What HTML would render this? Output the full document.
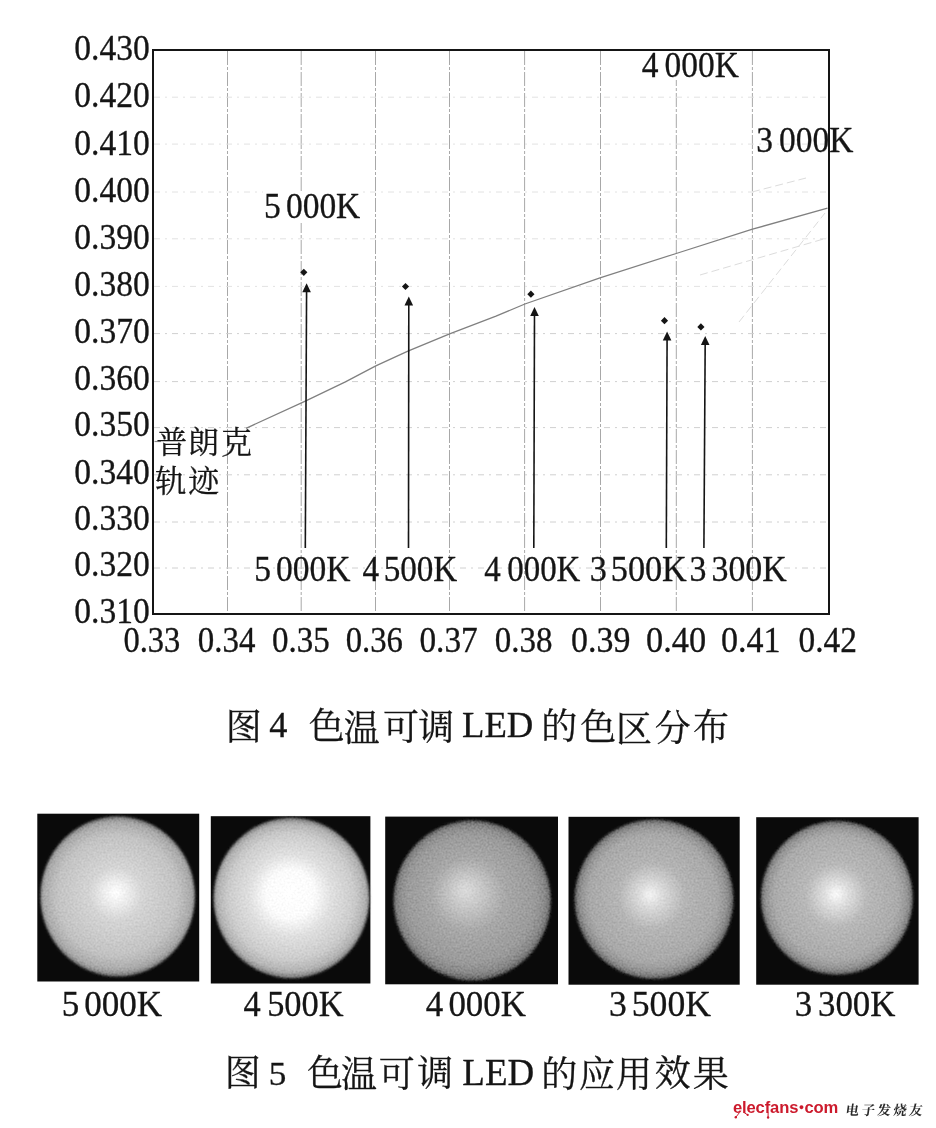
<!DOCTYPE html><html><head><meta charset="utf-8"><style>html,body{margin:0;padding:0;background:#fff;width:936px;height:1128px;overflow:hidden}svg{display:block}text{font-family:"Liberation Serif","Noto Serif CJK SC",serif;fill:#151515;stroke:#151515;stroke-width:0.3px}</style></head><body>
<svg width="936" height="1128" viewBox="0 0 936 1128">
<defs><filter id="bl" x="-10%" y="-10%" width="120%" height="120%"><feGaussianBlur stdDeviation="1.6"/></filter></defs>
<rect width="936" height="1128" fill="#fff"/>
<line x1="227.5" y1="51" x2="227.5" y2="613" stroke="#a8a8a8" stroke-width="1" stroke-dasharray="14 2 3 2"/>
<line x1="301.2" y1="51" x2="301.2" y2="613" stroke="#a8a8a8" stroke-width="1" stroke-dasharray="14 2 3 2"/>
<line x1="375.5" y1="51" x2="375.5" y2="613" stroke="#a8a8a8" stroke-width="1" stroke-dasharray="14 2 3 2"/>
<line x1="449.5" y1="51" x2="449.5" y2="613" stroke="#a8a8a8" stroke-width="1" stroke-dasharray="14 2 3 2"/>
<line x1="524.6" y1="51" x2="524.6" y2="613" stroke="#a8a8a8" stroke-width="1" stroke-dasharray="14 2 3 2"/>
<line x1="600.5" y1="51" x2="600.5" y2="613" stroke="#a8a8a8" stroke-width="1" stroke-dasharray="14 2 3 2"/>
<line x1="676.3" y1="51" x2="676.3" y2="613" stroke="#a8a8a8" stroke-width="1" stroke-dasharray="14 2 3 2"/>
<line x1="752.4" y1="51" x2="752.4" y2="613" stroke="#a8a8a8" stroke-width="1" stroke-dasharray="14 2 3 2"/>
<line x1="154" y1="97.2" x2="828" y2="97.2" stroke="#e2e2e2" stroke-width="1" stroke-dasharray="6 5 2 5"/>
<line x1="154" y1="144.1" x2="828" y2="144.1" stroke="#e2e2e2" stroke-width="1" stroke-dasharray="6 5 2 5"/>
<line x1="154" y1="192" x2="828" y2="192" stroke="#e2e2e2" stroke-width="1" stroke-dasharray="6 5 2 5"/>
<line x1="154" y1="238.8" x2="828" y2="238.8" stroke="#e2e2e2" stroke-width="1" stroke-dasharray="6 5 2 5"/>
<line x1="154" y1="286.4" x2="828" y2="286.4" stroke="#e2e2e2" stroke-width="1" stroke-dasharray="6 5 2 5"/>
<line x1="154" y1="333.6" x2="828" y2="333.6" stroke="#d0d0d0" stroke-width="1" stroke-dasharray="6 5 2 5"/>
<line x1="154" y1="381.6" x2="828" y2="381.6" stroke="#d0d0d0" stroke-width="1" stroke-dasharray="6 5 2 5"/>
<line x1="154" y1="427.6" x2="828" y2="427.6" stroke="#d0d0d0" stroke-width="1" stroke-dasharray="6 5 2 5"/>
<line x1="154" y1="474.8" x2="828" y2="474.8" stroke="#d0d0d0" stroke-width="1" stroke-dasharray="6 5 2 5"/>
<line x1="154" y1="522" x2="828" y2="522" stroke="#d0d0d0" stroke-width="1" stroke-dasharray="6 5 2 5"/>
<line x1="154" y1="568" x2="828" y2="568" stroke="#d0d0d0" stroke-width="1" stroke-dasharray="6 5 2 5"/>
<polyline points="246,428.3 305.3,401.2 345.4,381.9 375.8,365.9 407.9,351.2 449.6,333.8 496,316.2 524.9,304 600,277.9 676.2,253.5 752.5,229.2 827.5,208.1" fill="none" stroke="#808080" stroke-width="1.3"/>
<g stroke="#dcdcdc" stroke-width="1" fill="none" stroke-dasharray="8 4"><line x1="752" y1="192" x2="806" y2="178"/><line x1="700" y1="275" x2="827" y2="238"/><line x1="739" y1="322" x2="825" y2="213"/></g>
<line x1="154.5" y1="441.5" x2="161" y2="441.5" stroke="#8a8a8a" stroke-width="1.2"/>
<rect x="263" y="191" width="99" height="32" fill="#fff"/>
<rect x="640" y="51" width="101" height="29" fill="#fff"/>
<rect x="153" y="50" width="676" height="564" fill="none" stroke="#151515" stroke-width="2"/>
<line x1="305.3" y1="548" x2="306.6" y2="287.2" stroke="#151515" stroke-width="1.6"/>
<path d="M306.6,283.2 L310.90000000000003,292.2 L302.3,292.2 Z" fill="#151515"/>
<path d="M303.8,268.7 L307.40000000000003,272.3 L303.8,275.90000000000003 L300.2,272.3 Z" fill="#151515"/>
<line x1="408.5" y1="548" x2="408.8" y2="300.5" stroke="#151515" stroke-width="1.6"/>
<path d="M408.8,296.5 L413.1,305.5 L404.5,305.5 Z" fill="#151515"/>
<path d="M405.5,282.9 L409.1,286.5 L405.5,290.1 L401.9,286.5 Z" fill="#151515"/>
<line x1="533.8" y1="548" x2="534.5" y2="311" stroke="#151515" stroke-width="1.6"/>
<path d="M534.5,307 L538.8,316 L530.2,316 Z" fill="#151515"/>
<path d="M530.9,290.59999999999997 L534.5,294.2 L530.9,297.8 L527.3,294.2 Z" fill="#151515"/>
<line x1="666.3" y1="548" x2="667.1" y2="335.6" stroke="#151515" stroke-width="1.6"/>
<path d="M667.1,331.6 L671.4,340.6 L662.8000000000001,340.6 Z" fill="#151515"/>
<path d="M664.5,317.09999999999997 L668.1,320.7 L664.5,324.3 L660.9,320.7 Z" fill="#151515"/>
<line x1="703.9" y1="548" x2="705.2" y2="340" stroke="#151515" stroke-width="1.6"/>
<path d="M705.2,336 L709.5,345 L700.9000000000001,345 Z" fill="#151515"/>
<path d="M700.9,323.29999999999995 L704.5,326.9 L700.9,330.5 L697.3,326.9 Z" fill="#151515"/>
<filter id="nz" x="-5%" y="-5%" width="110%" height="110%"><feGaussianBlur in="SourceGraphic" stdDeviation="1.6" result="b"/><feTurbulence type="fractalNoise" baseFrequency="0.5" numOctaves="2" seed="7" result="t"/><feColorMatrix in="t" type="matrix" values="1 0 0 0 0  1 0 0 0 0  1 0 0 0 0  0 0 0 0 1" result="n"/><feComposite in="b" in2="n" operator="arithmetic" k1="0" k2="1" k3="0.22" k4="-0.11" result="c"/><feComposite in="c" in2="b" operator="in"/></filter>
<radialGradient id="g0" cx="117.7" cy="896.4" fx="115.5" fy="892.5" r="80.8" gradientUnits="userSpaceOnUse"><stop offset="0" stop-color="#ffffff"/><stop offset="0.12" stop-color="#f0f0f0"/><stop offset="0.33" stop-color="#d4d4d4"/><stop offset="0.75" stop-color="#c2c2c2"/><stop offset="0.92" stop-color="#a8a8a8"/><stop offset="1" stop-color="#6a6a6a"/></radialGradient>
<rect x="37.3" y="813.7" width="161.89999999999998" height="167.79999999999995" fill="#0a0a0a"/>
<ellipse cx="117.7" cy="896.4" rx="78" ry="80.8" fill="url(#g0)" filter="url(#nz)"/>
<radialGradient id="g1" cx="291.5" cy="898" fx="289.5" fy="892.5" r="81" gradientUnits="userSpaceOnUse"><stop offset="0" stop-color="#ffffff"/><stop offset="0.3" stop-color="#fbfbfb"/><stop offset="0.5" stop-color="#e0e0e0"/><stop offset="0.78" stop-color="#cbcbcb"/><stop offset="0.92" stop-color="#b0b0b0"/><stop offset="1" stop-color="#6a6a6a"/></radialGradient>
<rect x="210.8" y="816.2" width="159.59999999999997" height="167.29999999999995" fill="#0a0a0a"/>
<ellipse cx="291.5" cy="898" rx="78.6" ry="81" fill="url(#g1)" filter="url(#nz)"/>
<radialGradient id="g2" cx="472.2" cy="900.4" fx="465" fy="890" r="80.8" gradientUnits="userSpaceOnUse"><stop offset="0" stop-color="#dcdcdc"/><stop offset="0.2" stop-color="#c6c6c6"/><stop offset="0.45" stop-color="#a8a8a8"/><stop offset="0.8" stop-color="#9a9a9a"/><stop offset="0.92" stop-color="#878787"/><stop offset="1" stop-color="#565656"/></radialGradient>
<rect x="385.2" y="816.6" width="172.8" height="167.69999999999993" fill="#0a0a0a"/>
<ellipse cx="472.2" cy="900.4" rx="79.4" ry="80.8" fill="url(#g2)" filter="url(#nz)"/>
<radialGradient id="g3" cx="654" cy="899.2" fx="650" fy="894.5" r="80.4" gradientUnits="userSpaceOnUse"><stop offset="0" stop-color="#f4f4f4"/><stop offset="0.15" stop-color="#dadada"/><stop offset="0.42" stop-color="#b4b4b4"/><stop offset="0.8" stop-color="#a8a8a8"/><stop offset="0.92" stop-color="#909090"/><stop offset="1" stop-color="#5a5a5a"/></radialGradient>
<rect x="568.5" y="816.8" width="171.20000000000005" height="167.9000000000001" fill="#0a0a0a"/>
<ellipse cx="654" cy="899.2" rx="80.2" ry="80.4" fill="url(#g3)" filter="url(#nz)"/>
<radialGradient id="g4" cx="836.9" cy="897.9" fx="836" fy="894" r="77.7" gradientUnits="userSpaceOnUse"><stop offset="0" stop-color="#fcfcfc"/><stop offset="0.13" stop-color="#e2e2e2"/><stop offset="0.4" stop-color="#b8b8b8"/><stop offset="0.8" stop-color="#aaaaaa"/><stop offset="0.92" stop-color="#929292"/><stop offset="1" stop-color="#5a5a5a"/></radialGradient>
<rect x="756.2" y="817.2" width="162.39999999999998" height="167.5" fill="#0a0a0a"/>
<ellipse cx="836.9" cy="897.9" rx="76.7" ry="77.7" fill="url(#g4)" filter="url(#nz)"/>
<text transform="matrix(1.0167 0 0 1.0773 74.28 60.00)" font-size="33">0.430</text>
<text transform="matrix(1.0167 0 0 1.0773 74.28 107.30)" font-size="33">0.420</text>
<text transform="matrix(1.0167 0 0 1.0773 74.28 154.55)" font-size="33">0.410</text>
<text transform="matrix(1.0167 0 0 1.0773 74.28 201.70)" font-size="33">0.400</text>
<text transform="matrix(1.0167 0 0 1.0773 74.28 248.80)" font-size="33">0.390</text>
<text transform="matrix(1.0167 0 0 1.0773 74.28 296.20)" font-size="33">0.380</text>
<text transform="matrix(1.0167 0 0 1.0773 74.28 343.35)" font-size="33">0.370</text>
<text transform="matrix(1.0167 0 0 1.0773 74.28 390.45)" font-size="33">0.360</text>
<text transform="matrix(1.0167 0 0 1.0773 74.28 436.30)" font-size="33">0.350</text>
<text transform="matrix(1.0167 0 0 1.0773 74.28 483.50)" font-size="33">0.340</text>
<text transform="matrix(1.0167 0 0 1.0773 74.28 529.80)" font-size="33">0.330</text>
<text transform="matrix(1.0167 0 0 1.0773 74.28 576.00)" font-size="33">0.320</text>
<text transform="matrix(1.0167 0 0 1.0773 74.28 622.50)" font-size="33">0.310</text>
<text transform="matrix(0.9855 0 0 1.1091 123.41 652.20)" font-size="33">0.33</text>
<text transform="matrix(0.9982 0 0 1.1091 197.80 652.20)" font-size="33">0.34</text>
<text transform="matrix(1.0000 0 0 1.1091 272.00 652.20)" font-size="33">0.35</text>
<text transform="matrix(0.9911 0 0 1.1091 345.71 652.20)" font-size="33">0.36</text>
<text transform="matrix(1.0107 0 0 1.1091 419.39 652.20)" font-size="33">0.37</text>
<text transform="matrix(1.0000 0 0 1.1091 494.80 652.20)" font-size="33">0.38</text>
<text transform="matrix(1.0273 0 0 1.1091 571.07 652.20)" font-size="33">0.39</text>
<text transform="matrix(1.0400 0 0 1.1091 646.06 652.20)" font-size="33">0.40</text>
<text transform="matrix(1.0309 0 0 1.1091 721.07 652.20)" font-size="33">0.41</text>
<text transform="matrix(1.0127 0 0 1.1091 798.49 652.20)" font-size="33">0.42</text>
<text transform="matrix(0.9851 0 0 1.0455 263.88 217.50)" font-size="34">5</text>
<text transform="matrix(0.9851 0 0 1.0455 285.91 217.50)" font-size="34">000K</text>
<text transform="matrix(0.9838 0 0 1.0682 641.70 76.70)" font-size="34">4</text>
<text transform="matrix(0.9838 0 0 1.0682 664.62 76.70)" font-size="34">000K</text>
<text transform="matrix(0.9838 0 0 1.0409 756.25 152.30)" font-size="34">3</text>
<text transform="matrix(0.9838 0 0 1.0409 779.02 152.30)" font-size="34">000K</text>
<text transform="matrix(0.9851 0 0 1.0500 254.28 580.70)" font-size="34">5</text>
<text transform="matrix(0.9851 0 0 1.0500 276.01 580.70)" font-size="34">000K</text>
<text transform="matrix(0.9753 0 0 1.0500 362.52 580.70)" font-size="34">4</text>
<text transform="matrix(0.9753 0 0 1.0500 383.65 580.70)" font-size="34">500K</text>
<text transform="matrix(0.9689 0 0 1.0500 484.23 580.70)" font-size="34">4</text>
<text transform="matrix(0.9689 0 0 1.0500 507.23 580.70)" font-size="34">000K</text>
<text transform="matrix(1.0055 0 0 1.0500 589.65 580.70)" font-size="34">3</text>
<text transform="matrix(1.0055 0 0 1.0500 610.79 580.70)" font-size="34">500K</text>
<text transform="matrix(0.9959 0 0 1.0500 689.59 580.70)" font-size="34">3</text>
<text transform="matrix(0.9959 0 0 1.0500 711.51 580.70)" font-size="34">300K</text>
<text transform="matrix(1.0013 0 0 1.0167 61.64 1015.60)" font-size="35">5</text>
<text transform="matrix(1.0013 0 0 1.0167 84.30 1015.60)" font-size="35">000K</text>
<text transform="matrix(0.9827 0 0 1.0167 243.56 1015.60)" font-size="35">4</text>
<text transform="matrix(0.9827 0 0 1.0167 267.13 1015.60)" font-size="35">500K</text>
<text transform="matrix(0.9974 0 0 1.0167 425.72 1015.60)" font-size="35">4</text>
<text transform="matrix(0.9974 0 0 1.0167 448.40 1015.60)" font-size="35">000K</text>
<text transform="matrix(1.0187 0 0 1.0167 609.03 1015.60)" font-size="35">3</text>
<text transform="matrix(1.0187 0 0 1.0167 631.76 1015.60)" font-size="35">500K</text>
<text transform="matrix(0.9947 0 0 1.0167 794.85 1015.60)" font-size="35">3</text>
<text transform="matrix(0.9947 0 0 1.0167 818.01 1015.60)" font-size="35">300K</text>
<text transform="matrix(1.0000 0 0 1.0000 156.20 453.40)" font-size="31">普</text>
<text transform="matrix(1.0000 0 0 1.0000 188.10 453.40)" font-size="31">朗</text>
<text transform="matrix(1.0000 0 0 1.0000 221.00 453.40)" font-size="31">克</text>
<text transform="matrix(1.0000 0 0 1.0000 155.25 491.85)" font-size="31">轨</text>
<text transform="matrix(1.0000 0 0 1.0000 188.15 492.35)" font-size="31">迹</text>
<text transform="matrix(1.0000 0 0 1.0000 225.70 739.75)" font-size="36">图</text>
<text transform="matrix(1.0000 0 0 1.0000 308.75 739.25)" font-size="36">色</text>
<text transform="matrix(1.0000 0 0 1.0000 343.65 740.50)" font-size="36">温</text>
<text transform="matrix(1.0000 0 0 1.0000 383.10 740.00)" font-size="36">可</text>
<text transform="matrix(1.0000 0 0 1.0000 418.20 739.55)" font-size="36">调</text>
<text transform="matrix(1.0000 0 0 1.0000 541.30 739.35)" font-size="36">的</text>
<text transform="matrix(1.0000 0 0 1.0000 580.15 740.15)" font-size="36">色</text>
<text transform="matrix(1.0000 0 0 1.0000 616.00 741.60)" font-size="36">区</text>
<text transform="matrix(1.0000 0 0 1.0000 654.70 740.65)" font-size="36">分</text>
<text transform="matrix(1.0000 0 0 1.0000 693.00 740.30)" font-size="36">布</text>
<text transform="matrix(1.0687 0 0 1.0500 269.23 736.80)" font-size="34">4</text>
<text transform="matrix(1.0191 0 0 1.0000 461.98 737.30)" font-size="36">LED</text>
<text transform="matrix(1.0000 0 0 1.0000 224.70 1086.25)" font-size="36">图</text>
<text transform="matrix(1.0000 0 0 1.0000 307.10 1086.00)" font-size="36">色</text>
<text transform="matrix(1.0000 0 0 1.0000 341.10 1087.20)" font-size="36">温</text>
<text transform="matrix(1.0000 0 0 1.0000 378.75 1086.70)" font-size="36">可</text>
<text transform="matrix(1.0000 0 0 1.0000 417.30 1086.30)" font-size="36">调</text>
<text transform="matrix(1.0000 0 0 1.0000 541.35 1086.70)" font-size="36">的</text>
<text transform="matrix(1.0000 0 0 1.0000 579.00 1087.30)" font-size="36">应</text>
<text transform="matrix(1.0000 0 0 1.0000 616.10 1086.80)" font-size="36">用</text>
<text transform="matrix(1.0000 0 0 1.0000 654.80 1086.35)" font-size="36">效</text>
<text transform="matrix(1.0000 0 0 1.0000 692.65 1086.80)" font-size="36">果</text>
<text transform="matrix(1.0357 0 0 1.0136 268.63 1084.80)" font-size="34">5</text>
<text transform="matrix(1.0265 0 0 1.0250 462.37 1084.60)" font-size="36">LED</text>
<g fill="#cc1a2c" stroke="none"><text x="733" y="1113" style="font-family:'Liberation Sans',sans-serif;fill:#cc1a2c;stroke:none" font-size="16.6" font-weight="bold" letter-spacing="-0.15">elecfans<tspan dx="0.6" font-size="9" dy="-3.2">●</tspan><tspan dx="0.4" dy="3.2">com</tspan></text><path d="M739.5,1112.5 L736,1117" stroke="#cc1a2c" stroke-width="1" fill="none"/><circle cx="735.8" cy="1117.3" r="1.2"/><path d="M744,1112.5 L747.5,1114.8" stroke="#cc1a2c" stroke-width="1" fill="none"/><circle cx="747.7" cy="1114.9" r="1.1"/><path d="M768.1,1112.5 L768.1,1117" stroke="#cc1a2c" stroke-width="1" fill="none"/><circle cx="768.1" cy="1117.5" r="1.2"/></g>
<text transform="translate(845,1115) skewX(-8)" style="font-family:'Liberation Serif','Noto Serif CJK SC',serif;fill:#2a2a2a;stroke:none" font-size="13.5" font-weight="bold" letter-spacing="2.4">电子发烧友</text>
</svg></body></html>
